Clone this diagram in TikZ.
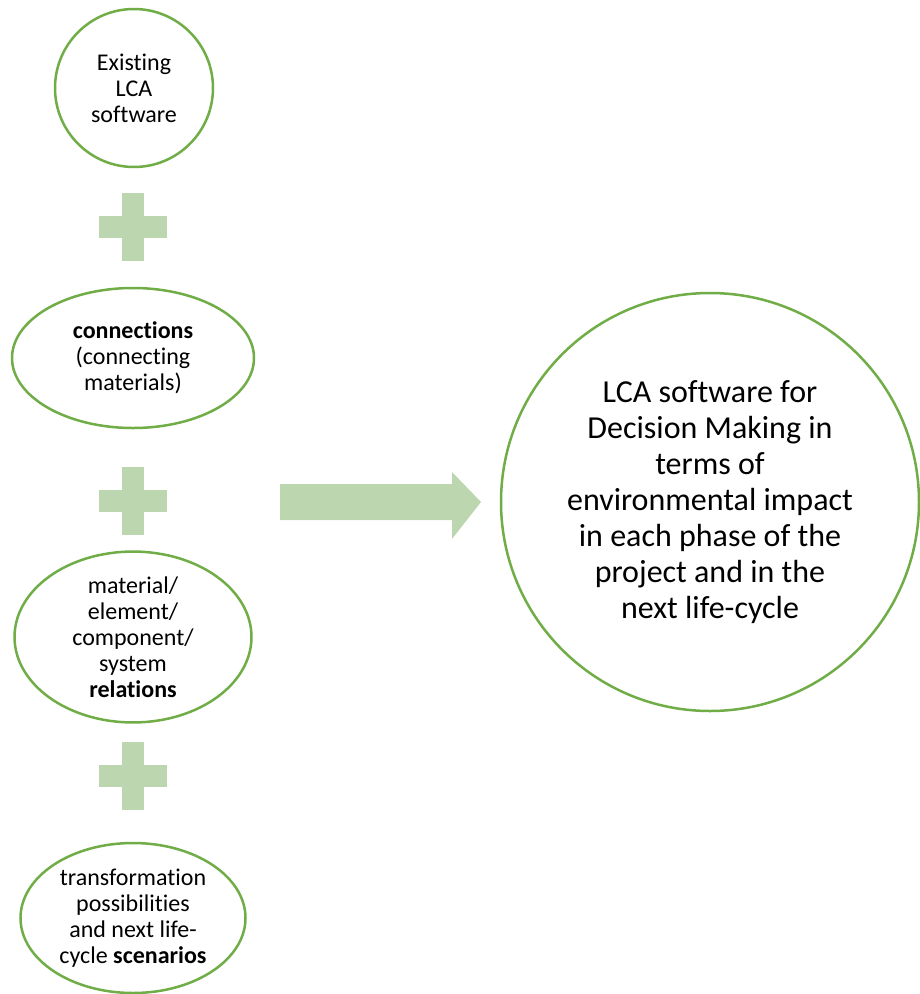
\documentclass[tikz,border=0pt]{standalone}
\usepackage{fontspec}
\setmainfont{Carlito}[RawFeature={-liga}]
\usetikzlibrary{shapes.geometric,shapes.arrows}
\definecolor{gline}{RGB}{112,173,71}
\definecolor{gfill}{RGB}{188,214,176}
\tikzset{
  bubble/.style={draw=gline,line width=2.5pt,fill=white,align=center,inner sep=0pt,font=\fontsize{24}{26}\selectfont},
  plusbar/.style={fill=gfill,draw=none}
}
\begin{document}
\begin{tikzpicture}[x=1pt,y=-1pt]
\useasboundingbox (0,0) rectangle (919,994);
% top circle
\node[bubble,circle,minimum size=158pt] (c1) at (134,88) {Existing\\LCA\\software};
% ellipses
\node[bubble,ellipse,minimum width=242pt,minimum height=140pt] (e2) at (133,358) {\textbf{connections}\\(connecting\\materials)};
\node[bubble,ellipse,minimum width=237pt,minimum height=150pt] (e3) at (133,637) {material/\\element/\\component/\\system\\\textbf{relations}};
\node[bubble,ellipse,minimum width=225pt,minimum height=150pt] (e4) at (133,918) {transformation\\possibilities\\and next life-\\cycle \textbf{scenarios}};
% big circle
\node[bubble,circle,minimum size=418pt,font=\fontsize{32}{36}\selectfont] (big) at (710,502) {LCA software for\\Decision Making in\\terms of\\environmental impact\\in each phase of the\\project and in the\\next life-cycle};
% plus signs
\foreach \n/\y in {p1/227,p2/501,p3/776}{
  \coordinate (\n) at (133,\y);
  \fill[plusbar] ([xshift=-34pt,yshift=-11pt]\n) rectangle ([xshift=34pt,yshift=11pt]\n);
  \fill[plusbar] ([xshift=-11pt,yshift=-34pt]\n) rectangle ([xshift=11pt,yshift=34pt]\n);
}
% arrow
\coordinate (as) at (280,502);
\fill[gfill] (as) ++(0,-18) -- ++(172,0) -- ++(0,-12) -- ++(29,30) -- ++(-29,37) -- ++(0,-19) -- ++(-172,0) -- cycle;
\end{tikzpicture}
\end{document}
